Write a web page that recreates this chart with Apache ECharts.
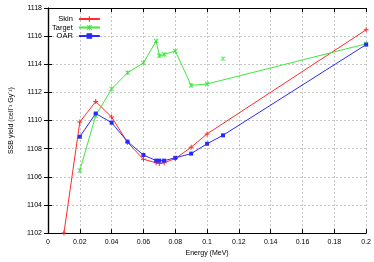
<!DOCTYPE html>
<html>
<head>
<meta charset="utf-8">
<script src="https://cdn.jsdelivr.net/npm/echarts@6/dist/echarts.min.js"></script>
<style>
  html, body { margin: 0; padding: 0; background: #fff; }
  #chart { width: 374px; height: 262px; }
</style>
</head>
<body>
<div id="chart"></div>
<script>
// === Datos ==================================================================
const skinX   = [0.01, 0.02, 0.03, 0.04, 0.05, 0.06, 0.068, 0.07, 0.073, 0.08, 0.09, 0.1, 0.2];
const skinY   = [1102, 1109.9, 1111.35, 1110.25, 1108.45, 1107.25, 1107.0, 1106.95, 1107.0, 1107.3, 1108.1, 1109.05, 1116.45];

const targetX = [0.02, 0.03, 0.04, 0.05, 0.06, 0.068, 0.07, 0.073, 0.08, 0.09, 0.1, 0.2];
const targetY = [1106.45, 1110.35, 1112.25, 1113.4, 1114.1, 1115.65, 1114.6, 1114.7, 1114.95, 1112.5, 1112.6, 1115.45];
// punto suelto (sin línea)
const targetLoneX = [0.11];
const targetLoneY = [1114.4];

const oarX    = [0.02, 0.03, 0.04, 0.05, 0.06, 0.068, 0.07, 0.073, 0.08, 0.09, 0.1, 0.11, 0.2];
const oarY    = [1108.85, 1110.5, 1109.85, 1108.5, 1107.55, 1107.15, 1107.15, 1107.15, 1107.35, 1107.65, 1108.35, 1108.95, 1115.4];

const xTicks = { min: 0, max: 0.2, interval: 0.02 };
const yTicks = { min: 1102, max: 1118, interval: 2 };

// === Estilo ==================================================================
const red = '#ff2a2a', green = '#3ee63e', blue = '#2a2aff';
const FONT = 'Liberation Sans, Arial, sans-serif';
const plusPath  = 'path://M4,0H6V4H10V6H6V10H4V6H0V4H4Z';
const crossPath = 'path://M0,1.2L1.2,0L5,3.8L8.8,0L10,1.2L6.2,5L10,8.8L8.8,10L5,6.2L1.2,10L0,8.8L3.8,5Z M4.3,0H5.7V10H4.3Z';

const pairs = (xs, ys) => xs.map((x, i) => [x, ys[i]]);
const fmtX = v => (Math.abs(v) < 1e-9 ? '0' : String(+v.toFixed(2)));
const fmtY = v => String(Math.round(v));

const gridLine = { show: true, lineStyle: { color: '#b8b8b8', type: [2, 2], width: 0.8 } };
const axisLine = { show: true, lineStyle: { color: '#000', width: 1.2 } };
const tick = { show: true, inside: true, length: 4, lineStyle: { color: '#000' } };
const lbl = { color: '#000', fontSize: 7, fontFamily: FONT };

function lineSeries(name, data, color, symbol, size) {
  return {
    name, type: 'line', data, symbol, symbolSize: size,
    lineStyle: { color, width: 1 }, itemStyle: { color },
    emphasis: { disabled: true }, animation: false, clip: true
  };
}

const option = {
  animation: false,
  grid: { left: 41, right: 7, top: 8, bottom: 24 },
  legend: {
    orient: 'vertical', align: 'right', left: 47, top: 10,
    itemGap: 0.5, itemWidth: 21, itemHeight: 7,
    textStyle: { fontSize: 7.5, fontFamily: FONT, color: '#000', padding: [0, 1, 0, 0] },
    data: ['Skin', 'Target', 'OAR']
  },
  xAxis: [{
    type: 'value', ...xTicks,
    name: 'Energy (MeV)', nameLocation: 'middle', nameGap: 15,
    nameTextStyle: { fontSize: 7, fontFamily: FONT, color: '#000' },
    axisLine, axisTick: tick, splitLine: gridLine,
    axisLabel: { ...lbl, margin: 5, formatter: fmtX }
  }, {
    type: 'value', ...xTicks, position: 'top',
    axisLine, axisTick: tick, splitLine: { show: false }, axisLabel: { show: false }
  }],
  yAxis: [{
    type: 'value', ...yTicks,
    name: 'SSB yield (cell⁻¹ Gy⁻¹)', nameLocation: 'middle', nameGap: 33,
    nameTextStyle: { fontSize: 7, fontFamily: FONT, color: '#000' },
    axisLine, axisTick: tick, splitLine: gridLine,
    axisLabel: { ...lbl, margin: 6, formatter: fmtY }
  }, {
    type: 'value', ...yTicks, position: 'right',
    axisLine, axisTick: tick, splitLine: { show: false }, axisLabel: { show: false }
  }],
  series: [
    lineSeries('Skin', pairs(skinX, skinY), red, plusPath, 5),
    lineSeries('Target', pairs(targetX, targetY), green, crossPath, 5),
    lineSeries('OAR', pairs(oarX, oarY), blue, 'rect', 4),
    {
      name: 'Target', type: 'scatter', data: pairs(targetLoneX, targetLoneY),
      symbol: crossPath, symbolSize: 5, itemStyle: { color: green },
      emphasis: { disabled: true }
    }
  ]
};

const chart = echarts.init(document.getElementById('chart'), null, { renderer: 'canvas' });
chart.setOption(option);
</script>
</body>
</html>
